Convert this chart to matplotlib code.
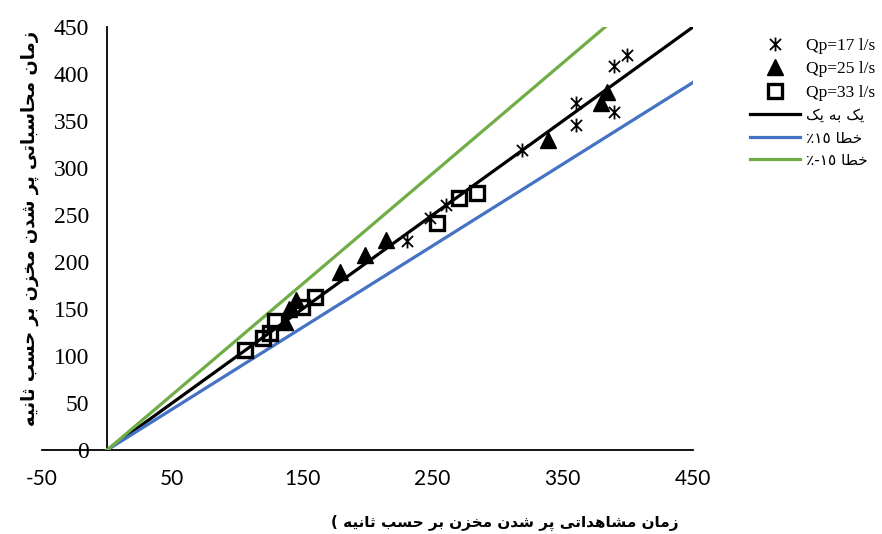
import numpy as np
import matplotlib
matplotlib.use('Agg')
import matplotlib.pyplot as plt
from matplotlib.path import Path

plt.rcParams['axes.unicode_minus'] = False

obs_17 = [230, 248, 260, 319, 360, 360, 389, 389, 399]
calc_17 = [222, 247, 261, 319, 346, 369, 360, 408, 420]

obs_25 = [137, 140, 145, 179, 198, 214, 339, 379, 384]
calc_25 = [136, 150, 160, 189, 207, 223, 330, 369, 381]

obs_33 = [106, 120, 125, 129, 150, 160, 253, 270, 284]
calc_33 = [106, 119, 124, 137, 152, 163, 241, 268, 273]

# reference lines
line_x = [0, 450]
line_y = [0, 450]
plus15_x = [0, 450]
plus15_y = [0, 391]
minus15_x = [0, 382.5]
minus15_y = [0, 450]

xticks = [-50, 50, 150, 250, 350, 450]
yticks = [0, 50, 100, 150, 200, 250, 300, 350, 400, 450]

# simple Persian shaping (matplotlib has no complex text layout)
FORMS = {'ا': 0xFE8D, 'ب': 0xFE8F, 'پ': 0xFB56, 'ت': 0xFE95, 'ث': 0xFE99,
         'ح': 0xFEA1, 'خ': 0xFEA5, 'د': 0xFEA9, 'ر': 0xFEAD, 'ز': 0xFEAF,
         'س': 0xFEB1, 'ش': 0xFEB5, 'ط': 0xFEC1, 'م': 0xFEE1, 'ن': 0xFEE5,
         'ه': 0xFEE9, 'ی': 0xFBFC, 'ک': 0xFB8E}
RIGHT_ONLY = set('ادرز')


def shape(s):
    out = []
    for i, c in enumerate(s):
        if c not in FORMS:
            out.append(c)
            continue
        prev = i > 0 and s[i - 1] in FORMS and s[i - 1] not in RIGHT_ONLY
        nxt = c not in RIGHT_ONLY and i + 1 < len(s) and s[i + 1] in FORMS
        k = 3 if (prev and nxt) else 1 if prev else 2 if nxt else 0
        out.append(chr(FORMS[c] + k))
    return ''.join(out)[::-1]


lbl_one = shape('یک به یک')
lbl_p15 = '\u066a\u0661\u0665 ' + shape('خطا')
lbl_m15 = '\u066a-\u0661\u0665 ' + shape('خطا')
xlabel = '( ' + shape('زمان مشاهداتی پر شدن مخزن بر حسب ثانیه')
ylabel = shape('زمان محاسباتی پر شدن مخزن بر حسب ثانیه')

star = Path([(-1, -1), (1, 1), (-1, 1), (1, -1), (0, -1.25), (0, 1.25)],
            [Path.MOVETO, Path.LINETO] * 3)

fig = plt.figure(figsize=(8.82, 5.34), dpi=100)
ax = fig.add_axes([42 / 882, 84 / 534, 651 / 882, 423 / 534])

ax.plot(obs_17, calc_17, ls='none', marker=star, ms=10, mec='black',
        mew=1.3, color='black', label='Qp=17 l/s', zorder=4)
ax.plot(obs_25, calc_25, ls='none', marker='^', ms=11, color='black',
        label='Qp=25 l/s', zorder=4)
ax.plot(obs_33, calc_33, ls='none', marker='s', ms=10.5, mfc='none',
        mec='black', mew=2.4, label='Qp=33 l/s', zorder=4)
ax.plot(line_x, line_y, color='black', lw=2.3, label=lbl_one, zorder=3)
ax.plot(plus15_x, plus15_y, color='#4472C4', lw=2.3, label=lbl_p15, zorder=3)
ax.plot(minus15_x, minus15_y, color='#70AD47', lw=2.3, label=lbl_m15, zorder=3)

ax.set_xlim(-50, 450)
ax.set_ylim(0, 450)
ax.spines['left'].set_position(('data', 0))
ax.spines['bottom'].set_position(('data', 0))
ax.spines['top'].set_visible(False)
ax.spines['right'].set_visible(False)
for s in ['left', 'bottom']:
    ax.spines[s].set_linewidth(1.3)
ax.set_xticks(xticks)
ax.set_yticks(yticks)
ax.tick_params(length=0)
ax.tick_params(axis='x', pad=14)
ax.tick_params(axis='y', pad=13)
for t in ax.get_xticklabels():
    t.set_fontfamily('Lato')
    t.set_fontsize(15)
for t in ax.get_yticklabels():
    t.set_fontfamily('Liberation Serif')
    t.set_fontsize(17)

fig.text(505 / 882, 1 - 523 / 534, xlabel, ha='center', va='center',
         fontsize=11, fontweight='bold', family='DejaVu Sans')
fig.text(30 / 882, 1 - 228 / 534, ylabel, ha='center', va='center',
         rotation=90, fontsize=13, fontweight='bold', family='DejaVu Sans')

leg = fig.legend(loc='upper left', bbox_to_anchor=(741 / 882, 1 - 29 / 534),
                 frameon=False, borderpad=0, handlelength=2.9,
                 handletextpad=0.35, labelspacing=0.42,
                 prop={'family': 'Liberation Serif', 'size': 12.5})
for i, t in enumerate(leg.get_texts()):
    if i >= 3:
        t.set_fontfamily('DejaVu Sans')
        t.set_fontsize(11)

fig.savefig('out.png', dpi=100)
